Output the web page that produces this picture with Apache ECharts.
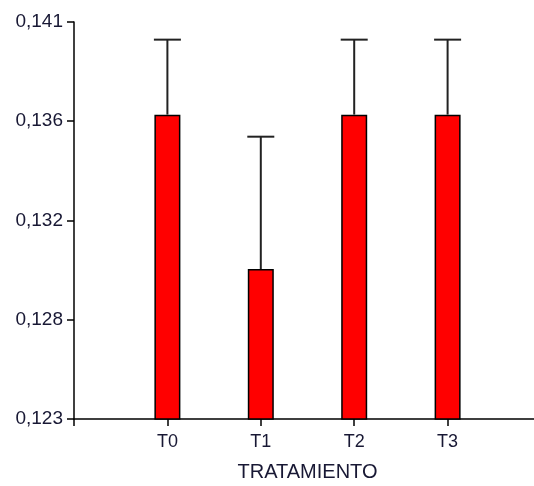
<!DOCTYPE html>
<html>
<head>
<meta charset="utf-8">
<script src="https://cdn.jsdelivr.net/npm/echarts@6/dist/echarts.min.js"></script>
<style>
html,body{margin:0;padding:0;background:#fff;}
#chart{width:534px;height:486px;}
</style>
</head>
<body>
<div id="chart"></div>
<script>
// Data
var categories = ['', 'T0', 'T1', 'T2', 'T3', ''];
var means = [null, 0.1368, 0.1298, 0.1368, 0.1368, null];
var errors = [null, 0.0034, 0.0060, 0.0034, 0.0034, null];
var yTickValues = [0.123, 0.1275, 0.132, 0.1365, 0.141];
var yTickLabels = ['0,123', '0,128', '0,132', '0,136', '0,141'];

var textColor = '#181834';
var fontFam = 'Liberation Sans, Arial, sans-serif';
var chart = echarts.init(document.getElementById('chart'), null, {renderer: 'canvas'});

var errData = [];
for (var i = 0; i < categories.length; i++) {
  if (means[i] != null) errData.push([i, means[i], means[i] + errors[i]]);
}

chart.setOption({
  animation: false,
  backgroundColor: '#ffffff',
  grid: {left: 74, top: 22, width: 467, height: 397, containLabel: false, outerBoundsMode: 'none'},
  xAxis: {
    type: 'category',
    data: categories,
    boundaryGap: false,
    name: 'TRATAMIENTO',
    nameLocation: 'middle',
    nameGap: 43,
    nameTextStyle: {color: textColor, fontFamily: fontFam, fontSize: 20},
    axisLine: {lineStyle: {color: '#000', width: 1.5}},
    axisTick: {show: true, length: 7, alignWithLabel: true, lineStyle: {color: '#000', width: 1.5}},
    axisLabel: {color: textColor, fontFamily: fontFam, fontSize: 18, margin: 14, interval: 0},
    splitLine: {show: false}
  },
  yAxis: {
    type: 'value',
    min: 0.123,
    max: 0.141,
    axisLine: {show: true, lineStyle: {color: '#000', width: 1.5}},
    axisTick: {show: true, length: 7, customValues: yTickValues, lineStyle: {color: '#000', width: 1.5}},
    axisLabel: {
      color: textColor, fontFamily: fontFam, fontSize: 19, margin: 11,
      customValues: yTickValues,
      formatter: function (v) {
        for (var k = 0; k < yTickValues.length; k++) {
          if (Math.abs(yTickValues[k] - v) < 1e-7) return yTickLabels[k];
        }
        return '';
      }
    },
    splitLine: {show: false}
  },
  series: [
    {
      type: 'bar',
      data: means,
      barWidth: 26,
      clip: true,
      itemStyle: {color: '#ff0000', borderColor: '#000', borderWidth: 1.5},
      z: 2
    },
    {
      type: 'custom',
      data: errData,
      z: 3,
      renderItem: function (params, api) {
        var x = api.value(0);
        var base = api.coord([x, api.value(1)]);
        var top = api.coord([x, api.value(2)]);
        var hw = 13.5;
        var st = {stroke: '#222', lineWidth: 2};
        return {
          type: 'group',
          children: [
            {type: 'line', shape: {x1: base[0], y1: base[1], x2: top[0], y2: top[1]}, style: st},
            {type: 'line', shape: {x1: top[0] - hw, y1: top[1], x2: top[0] + hw, y2: top[1]}, style: st}
          ]
        };
      }
    }
  ]
});
</script>
</body>
</html>
